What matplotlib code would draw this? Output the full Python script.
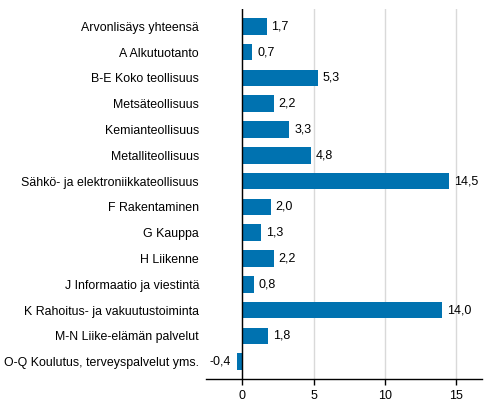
import matplotlib
matplotlib.use("Agg")
import matplotlib.pyplot as plt

categories = [
    "Arvonlisäys yhteensä",
    "A Alkutuotanto",
    "B-E Koko teollisuus",
    "Metsäteollisuus",
    "Kemianteollisuus",
    "Metalliteollisuus",
    "Sähkö- ja elektroniikkateollisuus",
    "F Rakentaminen",
    "G Kauppa",
    "H Liikenne",
    "J Informaatio ja viestintä",
    "K Rahoitus- ja vakuutustoiminta",
    "M-N Liike-elämän palvelut",
    "O-Q Koulutus, terveyspalvelut yms.",
]
values = [1.7, 0.7, 5.3, 2.2, 3.3, 4.8, 14.5, 2.0, 1.3, 2.2, 0.8, 14.0, 1.8, -0.4]
xticks = [0, 5, 10, 15]

plt.rcParams['font.family'] = ['Liberation Sans', 'DejaVu Sans']

fig = plt.figure(figsize=(4.91, 4.16), dpi=100)
ax = fig.add_axes([206/491, 1-379/416, (481.7-206)/491, (379-9)/416])

color = '#0072b0'
ypos = list(range(len(categories)))
ax.barh(ypos, values, height=0.65, color=color, zorder=3)
ax.set_ylim(len(categories) - 0.33, -0.67)
ax.set_xlim(-2.55, 16.8)

for y, v in zip(ypos, values):
    txt = f"{v:.1f}".replace('.', ',')
    if v >= 0:
        ax.annotate(txt, (v, y), xytext=(3.5, 0), textcoords='offset points',
                    ha='left', va='center', fontsize=9, color='#000000')
    else:
        ax.annotate(txt, (v, y), xytext=(-4, 0), textcoords='offset points',
                    ha='right', va='center', fontsize=9, color='#000000')

ax.set_yticks(ypos)
ax.set_yticklabels(categories, fontsize=8.9)
ax.tick_params(axis='y', length=0, pad=5)
ax.set_xticks(xticks)
ax.set_xticklabels([str(t) for t in xticks], fontsize=9)
ax.tick_params(axis='x', length=4, width=1, color='black', pad=4)

ax.grid(axis='x', color='#d9d9d9', linewidth=1, zorder=0)
ax.axvline(0, color='black', linewidth=1, zorder=4)
for s in ['top', 'right', 'left']:
    ax.spines[s].set_visible(False)
ax.spines['bottom'].set_color('black')
ax.spines['bottom'].set_linewidth(1)

fig.savefig("out.png", dpi=100)
